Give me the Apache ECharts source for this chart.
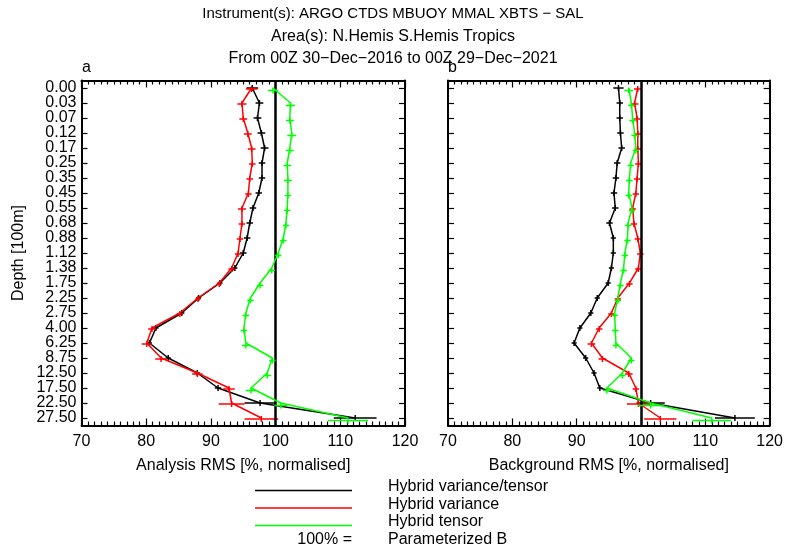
<!DOCTYPE html>
<html><head><meta charset="utf-8">
<script src="https://cdn.jsdelivr.net/npm/echarts@6/dist/echarts.min.js"></script>
<style>html,body{margin:0;padding:0;background:#fff}#c{width:786px;height:552px}</style>
</head><body><div id="c"></div>
<script>
// ---------- data ----------
const titleLines = [
  'Instrument(s): ARGO CTDS MBUOY MMAL XBTS \u2212 SAL',
  'Area(s): N.Hemis S.Hemis Tropics',
  'From 00Z 30\u2212Dec\u22122016 to 00Z 29\u2212Dec\u22122021'
];
const panelLabels = ['a', 'b'];
const xAxisNames = ['Analysis RMS [%, normalised]', 'Background RMS [%, normalised]'];
const yAxisName = 'Depth [100m]';
const depthLabels = ['0.00','0.03','0.07','0.12','0.17','0.25','0.35','0.45','0.55','0.68','0.88','1.12','1.38','1.75','2.25','2.75','4.00','6.25','8.75','12.50','17.50','22.50','27.50'];
const xMin = 70, xMax = 120, xStep = 10;
const refValue = 100;

// Panel a: analysis RMS
const anaHybridVT  = [96.4, 97.5, 97.2, 97.8, 98.3, 97.9, 97.9, 97.4, 96.5, 96.0, 95.6, 95.0, 93.7, 91.4, 88.1, 85.5, 81.5, 80.5, 83.4, 87.9, 91.1, 97.6, 112.3];
const anaHybridVar = [96.3, 94.8, 95.0, 95.7, 96.3, 96.4, 96.0, 95.8, 94.8, 94.8, 94.5, 94.2, 93.2, 91.3, 88.0, 85.2, 80.9, 80.1, 82.3, 87.9, 92.8, 93.2, 97.8];
const anaHybridTen = [99.6, 102.3, 102.2, 102.5, 102.2, 101.8, 101.9, 101.9, 101.8, 101.6, 101.2, 100.4, 99.4, 97.6, 96.1, 95.4, 95.1, 95.4, 99.5, 98.7, 96.2, 100.8, 111.2];
const anaErrVT  = [0.9, 0.6, 0.6, 0.6, 0.6, 0.5, 0.5, 0.5, 0.5, 0.5, 0.5, 0.5, 0.4, 0.4, 0.4, 0.4, 0.4, 0.4, 0.4, 0.4, 0.5, 2.4, 3.3];
const anaErrVar = [0.9, 0.7, 0.6, 0.6, 0.6, 0.5, 0.5, 0.5, 0.6, 0.5, 0.5, 0.5, 0.5, 0.4, 0.4, 0.5, 0.6, 0.8, 0.9, 0.8, 0.9, 2.0, 2.6];
const anaErrTen = [0.8, 0.7, 0.6, 0.7, 0.6, 0.6, 0.6, 0.5, 0.5, 0.5, 0.5, 0.5, 0.5, 0.5, 0.5, 0.5, 0.5, 0.6, 0.5, 0.6, 0.8, 1.0, 3.1];

// Panel b: background RMS
const bgHybridVT  = [96.5, 96.7, 96.7, 96.8, 97.0, 96.3, 96.1, 95.8, 96.0, 95.1, 95.7, 95.7, 95.4, 94.9, 93.2, 92.2, 90.5, 89.6, 91.4, 92.7, 93.6, 101.5, 114.6];
const bgHybridVar = [99.5, 99.0, 99.4, 99.5, 99.5, 99.6, 99.4, 99.2, 98.7, 98.9, 99.5, 99.9, 99.6, 98.2, 96.4, 95.4, 93.5, 92.3, 94.0, 98.1, 99.2, 99.6, 103.0];
const bgHybridTen = [98.1, 98.5, 98.7, 99.0, 99.2, 98.4, 98.2, 98.1, 98.6, 98.0, 97.9, 97.5, 97.3, 96.8, 96.4, 95.9, 96.0, 96.1, 98.5, 97.1, 94.7, 101.5, 111.0];
const bgErrVT  = [0.8, 0.5, 0.5, 0.5, 0.5, 0.5, 0.5, 0.5, 0.5, 0.5, 0.4, 0.4, 0.4, 0.4, 0.4, 0.4, 0.4, 0.4, 0.4, 0.4, 0.4, 2.2, 3.1];
const bgErrVar = [0.6, 0.6, 0.5, 0.5, 0.5, 0.5, 0.5, 0.5, 0.5, 0.5, 0.5, 0.5, 0.5, 0.5, 0.5, 0.5, 0.5, 0.6, 0.6, 0.6, 0.5, 1.8, 2.5];
const bgErrTen = [0.7, 0.5, 0.5, 0.5, 0.5, 0.5, 0.5, 0.5, 0.5, 0.5, 0.5, 0.5, 0.5, 0.5, 0.5, 0.5, 0.5, 0.5, 0.5, 0.5, 0.6, 2.0, 3.0];

const seriesNames = ['Hybrid variance/tensor', 'Hybrid variance', 'Hybrid tensor'];
const refLegendLeft = '100% =';
const refLegendRight = 'Parameterized B';
// ---------- end data ----------

const FONT = '"Liberation Sans", Arial, Helvetica, sans-serif';
const COLORS = ['#000000', '#ff0000', '#00ff00'];
const OFFSETS = [0, 1, 2.5];

const panels = [
  {vals: [anaHybridVT, anaHybridVar, anaHybridTen], errs: [anaErrVT, anaErrVar, anaErrTen]},
  {vals: [bgHybridVT, bgHybridVar, bgHybridTen], errs: [bgErrVT, bgErrVar, bgErrTen]}
];

const grids = [
  {left: 81.5, top: 80.5, width: 323.5, height: 345},
  {left: 448, top: 80.5, width: 324, height: 345}
];

function makeX(gi, pos, name) {
  return {
    type: 'value', gridIndex: gi, position: pos, min: xMin, max: xMax, interval: xStep,
    axisLine: {show: true, onZero: false, lineStyle: {color: '#000', width: 2}},
    axisTick: {show: true, inside: true, length: 7, lineStyle: {color: '#000', width: 1.2}},
    minorTick: {show: true, splitNumber: 10, length: 4, lineStyle: {color: '#000', width: 1.2}},
    splitLine: {show: false},
    axisLabel: {show: pos === 'bottom', fontFamily: FONT, fontSize: 16, color: '#000', margin: 8},
    name: name || '', nameLocation: 'middle', nameGap: 32,
    nameTextStyle: {fontFamily: FONT, fontSize: 16, color: '#000'}
  };
}
function makeY(gi, pos, showLabel, name) {
  return {
    type: 'category', gridIndex: gi, position: pos, data: depthLabels, inverse: true, boundaryGap: true,
    axisLine: {show: true, onZero: false, lineStyle: {color: '#000', width: 2}},
    axisTick: {show: true, inside: true, alignWithLabel: true, length: 6, lineStyle: {color: '#000', width: 1.2}},
    splitLine: {show: false},
    axisLabel: {show: showLabel, fontFamily: FONT, fontSize: 16, color: '#000', margin: 5, interval: 0},
    name: name || '', nameLocation: 'middle', nameGap: 55, nameRotate: 90,
    nameTextStyle: {fontFamily: FONT, fontSize: 16, color: '#000'}
  };
}

const xAxis = [
  makeX(0, 'bottom', xAxisNames[0]), makeX(0, 'top'),
  makeX(1, 'bottom', xAxisNames[1]), makeX(1, 'top')
];
const yAxis = [
  makeY(0, 'left', true, yAxisName), makeY(0, 'right', false),
  makeY(1, 'left', false), makeY(1, 'right', false)
];

function errRender(offset) {
  return function (params, api) {
    const m = api.value(0), idx = api.value(1), e = api.value(2);
    const p0 = api.coord([m - e, idx]);
    const p1 = api.coord([m + e, idx]);
    const pc = api.coord([m, idx]);
    const y = pc[1] + offset;
    const style = {stroke: api.visual('color'), lineWidth: 1.5};
    return {type: 'group', children: [
      {type: 'line', shape: {x1: p0[0], y1: y, x2: p1[0], y2: y}, style: style},
      {type: 'line', shape: {x1: pc[0], y1: y - 3, x2: pc[0], y2: y + 3}, style: style}
    ]};
  };
}

const series = [];
panels.forEach(function (p, pi) {
  const xi = pi * 2, yi = pi * 2;
  series.push({
    type: 'line', xAxisIndex: xi, yAxisIndex: yi, data: [], silent: true,
    markLine: {symbol: 'none', silent: true, label: {show: false},
      lineStyle: {color: '#000', width: 2.5, type: 'solid'}, data: [{xAxis: refValue}]}
  });
  p.vals.forEach(function (vals, si) {
    series.push({
      name: seriesNames[si], type: 'line', xAxisIndex: xi, yAxisIndex: yi,
      data: vals.map(function (v, i) { return [v, i]; }),
      symbol: 'none', lineStyle: {color: COLORS[si], width: 1.5}, itemStyle: {color: COLORS[si]},
      z: 3 + si, animation: false
    });
    series.push({
      type: 'custom', xAxisIndex: xi, yAxisIndex: yi,
      data: vals.map(function (v, i) { return [v, i, p.errs[si][i]]; }),
      encode: {x: 0, y: 1}, renderItem: errRender(OFFSETS[si]),
      itemStyle: {color: COLORS[si]}, z: 3 + si, animation: false
    });
  });
});

const graphic = [];
const titleTops = [6, 28.5, 51];
const titleSizes = [15, 16, 16];
titleLines.forEach(function (t, i) {
  graphic.push({type: 'text', left: 'center', top: titleTops[i],
    style: {text: t, fontFamily: FONT, fontSize: titleSizes[i], fill: '#000'}});
});
graphic.push({type: 'text', x: 82, y: 68, style: {text: panelLabels[0], fontFamily: FONT, fontSize: 16, fill: '#000', textVerticalAlign: 'middle'}});
graphic.push({type: 'text', x: 448, y: 68, style: {text: panelLabels[1], fontFamily: FONT, fontSize: 16, fill: '#000', textVerticalAlign: 'middle'}});
const legY = [487, 504.5, 522, 539.5];
const legLineY = [490.5, 508, 525.5];
seriesNames.forEach(function (n, i) {
  graphic.push({type: 'line', shape: {x1: 255, y1: legLineY[i], x2: 352, y2: legLineY[i]},
    style: {stroke: COLORS[i], lineWidth: 1.5}});
  graphic.push({type: 'text', x: 388, y: legY[i],
    style: {text: n, fontFamily: FONT, fontSize: 16, fill: '#000', textVerticalAlign: 'middle'}});
});
graphic.push({type: 'text', x: 352, y: legY[3],
  style: {text: refLegendLeft, fontFamily: FONT, fontSize: 16, fill: '#000', textAlign: 'right', textVerticalAlign: 'middle'}});
graphic.push({type: 'text', x: 388, y: legY[3],
  style: {text: refLegendRight, fontFamily: FONT, fontSize: 16, fill: '#000', textVerticalAlign: 'middle'}});

const chart = echarts.init(document.getElementById('c'), null, {renderer: 'canvas'});
chart.setOption({
  animation: false,
  backgroundColor: '#fff',
  grid: grids,
  xAxis: xAxis,
  yAxis: yAxis,
  series: series,
  graphic: graphic
});
</script>
</body></html>
